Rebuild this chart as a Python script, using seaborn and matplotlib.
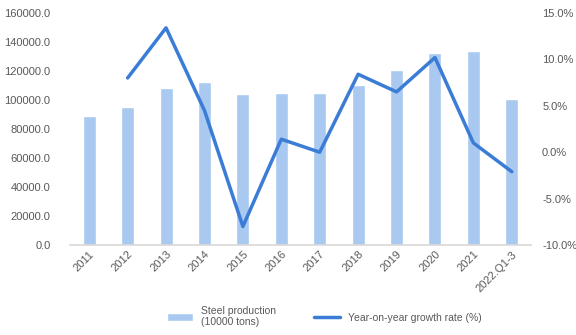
import matplotlib
matplotlib.use("Agg")
import matplotlib.pyplot as plt
import seaborn as sns
import pandas as pd
import numpy as np
from matplotlib.ticker import FuncFormatter

categories = ["2011", "2012", "2013", "2014", "2015", "2016", "2017", "2018",
              "2019", "2020", "2021", "2022.Q1-3"]
production = [89000, 95400, 108200, 112500, 103800, 104800, 104600, 110500,
              120500, 132500, 133700, 100900]
growth = [np.nan, 8.0, 13.4, 4.5, -8.0, 1.4, 0.0, 8.4, 6.5, 10.2, 1.0, -2.1]

df = pd.DataFrame({"year": categories, "production": production, "growth": growth})
df["pos"] = np.arange(len(categories))

sns.set_theme(style="white")
plt.rcParams['font.family'] = ['Liberation Sans', 'DejaVu Sans']

fig = plt.figure(figsize=(5.76, 3.35), dpi=100)
ax = fig.add_axes([70/576, 1-245/335, (531-70)/576, (245-13)/335])

bar_color = "#a9c9f1"
line_color = "#3b7dd6"
text_color = "#595959"

sns.barplot(data=df, x="year", y="production", color=bar_color, width=0.34,
            ax=ax, saturation=1, label="Steel production\n(10000 tons)")
ax.set_ylim(0, 160000)
ax.set_xlim(-0.5, len(categories) - 0.5)
ax.set_yticks(np.arange(0, 160001, 20000))
ax.yaxis.set_major_formatter(FuncFormatter(lambda v, p: f"{v:.1f}"))
ax.set_xlabel("")
ax.set_ylabel("")
for s in ["top", "right", "left"]:
    ax.spines[s].set_visible(False)
ax.spines["bottom"].set_color("#d9d9d9")
ax.tick_params(axis="y", labelsize=8, colors=text_color, length=0, pad=14)
ax.tick_params(axis="x", labelsize=8, colors=text_color, length=0, pad=3)
for lab in ax.get_xticklabels():
    lab.set_rotation(45)
    lab.set_ha("right")
    lab.set_rotation_mode("anchor")

ax2 = ax.twinx()
sns.lineplot(data=df, x="pos", y="growth", color=line_color, linewidth=2.5,
             ax=ax2, label="Year-on-year growth rate (%)", legend=False)
ax2.set_ylim(-10, 15)
ax2.set_yticks(np.arange(-10, 15.1, 5))
ax2.yaxis.set_major_formatter(FuncFormatter(lambda v, p: f"{v:.1f}%"))
ax2.set_ylabel("")
ax2.set_xlabel("")
for s in ["top", "right", "left", "bottom"]:
    ax2.spines[s].set_visible(False)
ax2.tick_params(axis="y", labelsize=8, colors=text_color, length=0, pad=8)
ax.set_xlim(-0.5, len(categories) - 0.5)

if ax.get_legend() is not None:
    ax.get_legend().remove()
h1, l1 = ax.get_legend_handles_labels()
h2, l2 = ax2.get_legend_handles_labels()
fig.legend(h1 + h2, l1 + l2, loc="center", bbox_to_anchor=(0.563, 0.055), ncol=2,
           frameon=False, fontsize=7.5, labelcolor=text_color, handlelength=2.5,
           columnspacing=3.6, handletextpad=0.8)

fig.savefig("out.png", dpi=100)
